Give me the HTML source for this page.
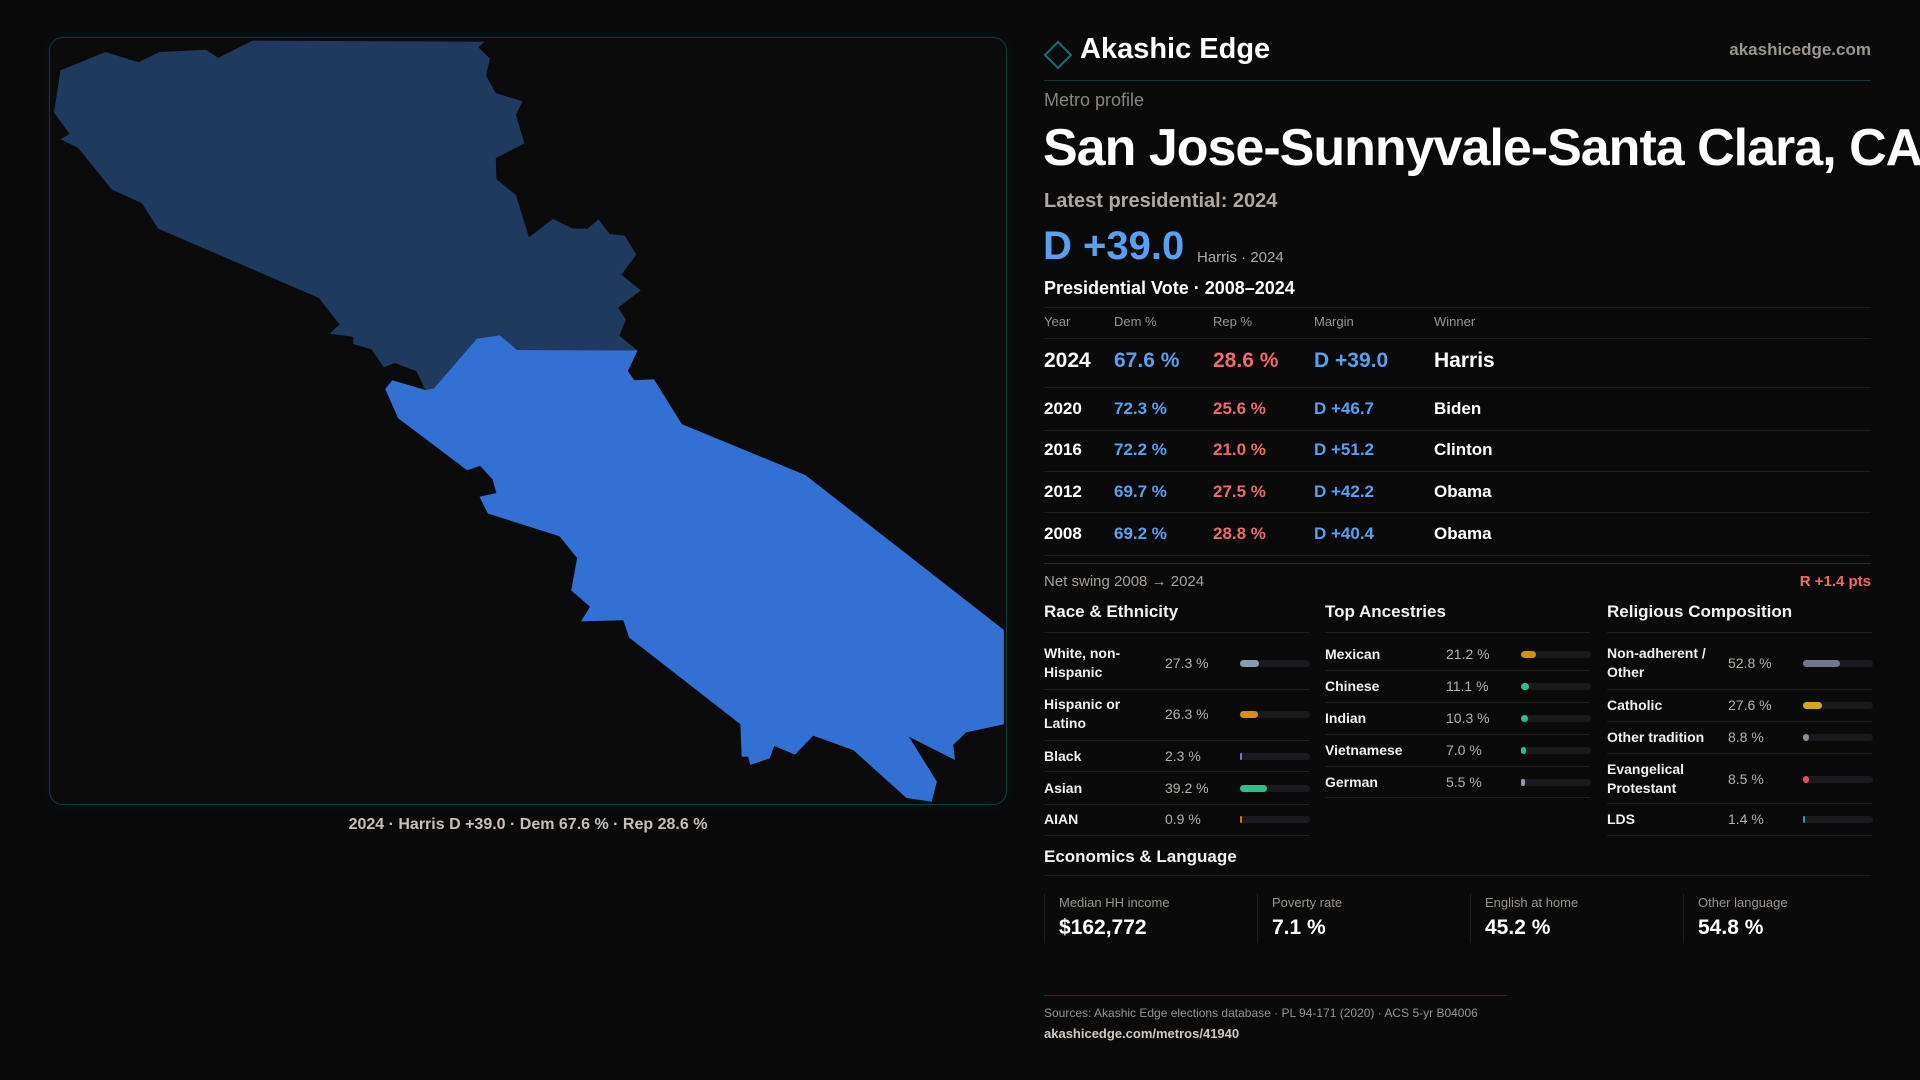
<!DOCTYPE html>
<html><head><meta charset="utf-8">
<style>
*{margin:0;padding:0;box-sizing:border-box}
body{width:1920px;height:1080px;background:#0a0a0b;overflow:hidden;position:relative;font-family:"Liberation Sans",sans-serif;color:#fff}
.a{position:absolute;white-space:nowrap}
.hl{position:absolute;height:1px;background:#1e1f22}
#panel{position:absolute;left:49px;top:37px;width:958px;height:768px;border:1px solid #0f3a40;border-radius:14px;background:#0b0b0c;box-shadow:0 0 12px rgba(20,90,100,.15)}
.sec{font-size:17px;font-weight:bold;color:#f2f2f2}
.lbl{font-size:14px;color:#f0f0f0;line-height:19px;font-weight:bold}
.val{font-size:14px;color:#b8b0a8}
.trk{position:absolute;height:7px;border-radius:4px;background:#1a1a1e}
.bar{position:absolute;height:7px;border-radius:4px}
</style></head><body>
<div id="panel"></div>
<svg class="a" style="left:0;top:0" width="1920" height="1080">
<defs><clipPath id="pc"><rect x="50" y="38" width="956" height="766" rx="13"/></clipPath></defs>
<g clip-path="url(#pc)"><g transform="scale(0.6506,0.5417)">
<polygon fill="#1f3a5f" points="93,130 162,96 213,115 245,96 317,92 335,107 388,75 745,77 735,87 753,108 747,140 762,172 803,187 793,212 806,265 762,292 763,331 793,360 813,438 850,404 880,422 903,422 920,405 937,432 960,435 978,470 955,507 985,536 950,568 962,590 952,620 980,647 795,646 768,619 733,625 667,717 654,720 640,685 607,670 590,678 571,645 543,635 543,622 507,616 522,599 490,550 243,422 218,375 172,350 120,273 93,257 107,247 83,208"/>
<polygon fill="#3370d4" points="733,625 768,619 795,646 980,647 965,685 975,702 1005,700 1048,783 1238,877 1543,1163 1543,1337 1485,1352 1465,1375 1468,1403 1397,1360 1440,1443 1432,1480 1393,1473 1312,1385 1250,1358 1222,1393 1190,1377 1183,1400 1153,1412 1150,1397 1140,1397 1138,1337 967,1177 958,1145 893,1147 907,1120 878,1090 887,1030 860,990 750,948 737,917 763,910 757,885 738,860 718,868 612,772 592,718 603,702 654,720 667,717"/>
</g></g></svg>
<div class="a" style="left:0;width:1056px;text-align:center;top:816px;font-size:16px;color:#c8c0b8;font-weight:bold">2024 · Harris D +39.0 · Dem 67.6 % · Rep 28.6 %</div>

<svg class="a" style="left:1043px;top:40px" width="30" height="30"><polygon points="15,2 28,15 15,28 2,15" fill="none" stroke="#137078" stroke-width="2"/></svg>
<div class="a" style="left:1080px;top:33px;font-size:29px;font-weight:bold">Akashic Edge</div>
<div class="a" style="right:49px;top:40px;font-size:17px;color:#9a948c;font-weight:bold">akashicedge.com</div>
<div class="hl" style="left:1044px;width:827px;top:80px;background:#12383c"></div>
<div class="a" style="left:1044px;top:90px;font-size:18px;color:#8a847c">Metro profile</div>
<div class="a" style="left:1043px;top:118px;font-size:52px;font-weight:bold;letter-spacing:-1px">San Jose-Sunnyvale-Santa Clara, CA</div>
<div class="a" style="left:1044px;top:190px;font-size:20px;color:#b0a8a0;font-weight:bold">Latest presidential: 2024</div>
<div class="a" style="left:1043px;top:224px;font-size:40px;color:#5aa0f0;font-weight:bold">D +39.0</div>
<div class="a" style="left:1197px;top:249px;font-size:15px;color:#b0a8a0">Harris · 2024</div>
<div class="a" style="left:1044px;top:278px;font-size:18px;font-weight:bold">Presidential Vote · 2008–2024</div>
<div id="tbl"></div>
<div class="a" style="left:1044px;top:573px;font-size:15px;color:#a8a098">Net swing 2008 → 2024</div>
<div class="a" style="right:49px;top:573px;font-size:15px;color:#f06a6a;font-weight:bold">R +1.4 pts</div>
<div id="cols"></div>
<div class="a sec" style="left:1044px;top:847px">Economics &amp; Language</div>
<div class="hl" style="left:1044px;width:827px;top:875px"></div>
<div id="econ"></div>
<div class="hl" style="left:1044px;width:463px;top:995px;background:#12383c"></div>
<div class="a" style="left:1044px;top:1006px;font-size:12px;color:#9a948c">Sources: Akashic Edge elections database · PL 94-171 (2020) · ACS 5-yr B04006</div>
<div class="a" style="left:1044px;top:1026px;font-size:13px;color:#d0c8c0;font-weight:bold">akashicedge.com/metros/41940</div>
<script>
const years=["2024","2020","2016","2012","2008"];
const demPct=[67.6,72.3,72.2,69.7,69.2];
const repPct=[28.6,25.6,21.0,27.5,28.8];
const winners=["Harris","Biden","Clinton","Obama","Obama"];
const raceLabels=["White, non-\nHispanic","Hispanic or\nLatino","Black","Asian","AIAN"];
const raceValues=[27.3,26.3,2.3,39.2,0.9];
const ancLabels=["Mexican","Chinese","Indian","Vietnamese","German"];
const ancValues=[21.2,11.1,10.3,7.0,5.5];
const relLabels=["Non-adherent /\nOther","Catholic","Other tradition","Evangelical\nProtestant","LDS"];
const relValues=[52.8,27.6,8.8,8.5,1.4];
const econLabels=["Median HH income","Poverty rate","English at home","Other language"];
const econValues=["$162,772","7.1 %","45.2 %","54.8 %"];

function mk(parent,cls,style,text){const d=document.createElement('div');d.className=cls;d.style.cssText=style;if(text!==undefined)d.textContent=text;parent.appendChild(d);return d;}
const tbl=document.getElementById('tbl');
const hdr=["Year","Dem %","Rep %","Margin","Winner"];const cx=[1044,1114,1213,1314,1434];
hdr.forEach((h,i)=>{const e=mk(tbl,'a',`left:${cx[i]}px;top:314px;font-size:13px;color:#9a948c`,h);

});
[307,338].forEach(y=>{const e=mk(tbl,'hl',`left:1044px;width:827px;top:${y}px`);

});
const rowY=[362,409,450,492,534];const lineY=[387,430,471,512,555];
years.forEach((y,i)=>{const fs=i==0?21:17;const t=rowY[i]-fs*0.6;
const m=demPct[i]-repPct[i];
const vals=[y,demPct[i].toFixed(1)+" %",repPct[i].toFixed(1)+" %",(m>=0?"D +":"R +")+Math.abs(m).toFixed(1),winners[i]];
const cols=["#fff","#5aa0f0","#f06a6a","#5aa0f0","#fff"];
vals.forEach((v,j)=>{const e=mk(tbl,'a',`left:${cx[j]}px;top:${t}px;font-size:${fs}px;color:${cols[j]};font-weight:bold`,v);

});
const l=mk(tbl,'hl',`left:1044px;width:827px;top:${lineY[i]}px`);

});
const sw=mk(tbl,'hl',`left:1044px;width:827px;top:563px;background:#2a2b2e`);



const cols=document.getElementById('cols');
const groups=[
 {x:1044,title:"Race & Ethnicity",labels:raceLabels,values:raceValues,colors:["#8a9ab0","#d4900f","#8a6fd8","#2fbf8a","#c87820"],rows:[663,714,756,788,819],lines:[689,740,771,804,835]},
 {x:1325,title:"Top Ancestries",labels:ancLabels,values:ancValues,colors:["#d4900f","#2fbf8a","#2fbf8a","#2fbf8a","#8a9ab0"],rows:[654,686,718,750,782],lines:[670,702,734,766,797]},
 {x:1607,title:"Religious Composition",labels:relLabels,values:relValues,colors:["#6e7a8c","#d8a81c","#8a8f98","#e05060","#2aa0a0"],rows:[663,705,737,779,819],lines:[689,721,753,803,835]}];
groups.forEach((g,gi)=>{
 const h=mk(cols,'a sec',`left:${g.x}px;top:602px`,g.title);
 
 
 const u=mk(cols,'hl',`left:${g.x}px;width:265px;top:632px`);
 
 
 g.labels.forEach((lb,i)=>{
  const lines=lb.split("\n");const cy=g.rows[i];
  const l=mk(cols,'a lbl',`left:${g.x}px;top:${cy-lines.length*9.5}px`);l.innerHTML=lines.join("<br>");
  
  
  const v=mk(cols,'a val',`left:${g.x+121}px;top:${cy-8}px`,g.values[i].toFixed(1)+" %");
  
  
  const tr=mk(cols,'trk',`left:${g.x+196}px;top:${cy-3}px;width:70px`);
  
  
  const w=Math.max(2,70*g.values[i]/100);
  const b=mk(cols,'bar',`left:${g.x+196}px;top:${cy-3}px;width:${w}px;background:${g.colors[i]}`);
  
  
  const rl=mk(cols,'hl',`left:${g.x}px;width:265px;top:${g.lines[i]}px`);
  
  
 });
});
const econ=document.getElementById('econ');
econLabels.forEach((lb,i)=>{const x=1044+i*213;
 const c=mk(econ,'a',`left:${x}px;top:894px;width:1px;height:49px;background:#1e1f22`);
 
 
 const l=mk(econ,'a',`left:${x+15}px;top:895px;font-size:13px;color:#9a948c`,lb);
 
 
 const v=mk(econ,'a',`left:${x+15}px;top:916px;font-size:21px;font-weight:bold`,econValues[i]);
 
 
});
</script>
</body></html>
